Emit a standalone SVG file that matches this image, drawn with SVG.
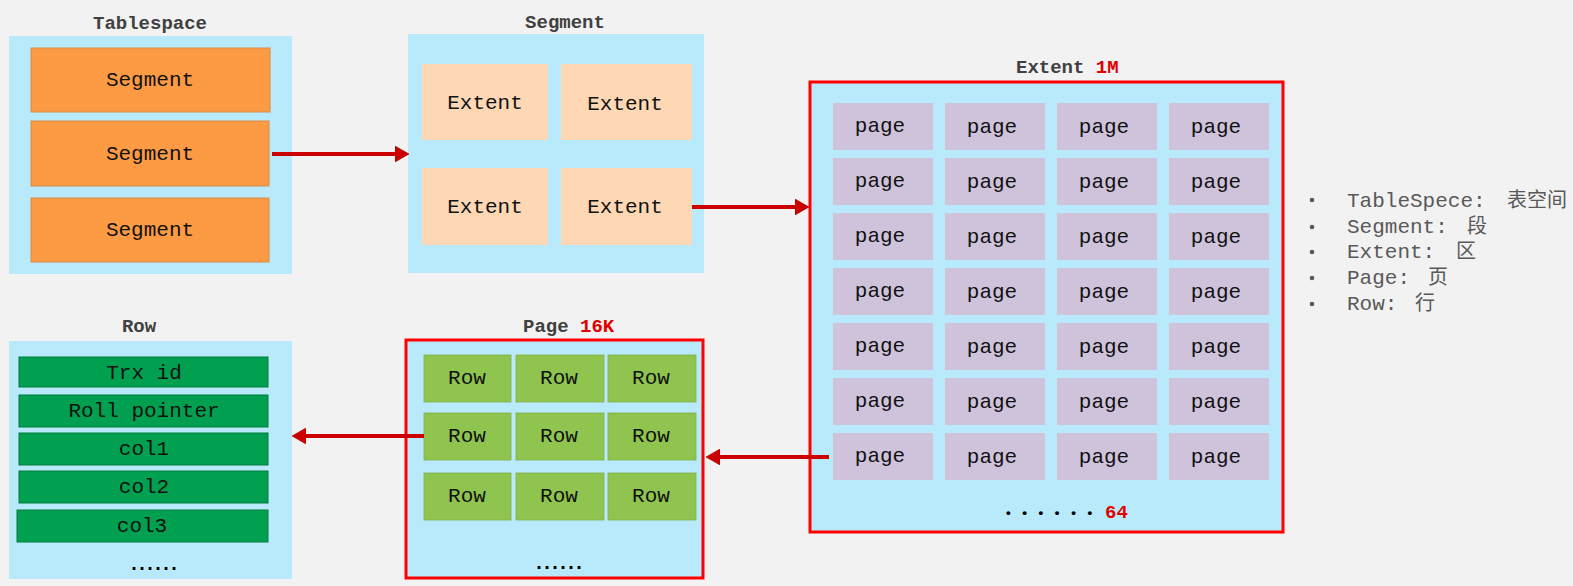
<svg xmlns="http://www.w3.org/2000/svg" width="1573" height="586" viewBox="0 0 1573 586">
<style>
.bg{fill:#f2f2f2}
.cont{fill:#b8eafc}
.redbox{fill:#b8eafc;stroke:#ff0000;stroke-width:3}
.title{font-family:"Liberation Mono",monospace;font-weight:bold;font-size:19px;fill:#404040;text-anchor:middle}
.red{fill:#e00000}
.lbl{font-family:"Liberation Mono",monospace;font-size:21px;fill:#111;text-anchor:middle}
.seg{fill:#fd9b44;stroke:#d98a45;stroke-width:1}
.ext{fill:#fed8b4}
.pg{fill:#cfc3dc}
.row{fill:#8fc44f;stroke:#7fb244;stroke-width:0.8}
.col{fill:#00a050;stroke:#007a3a;stroke-width:1}
.arrow{stroke:#cc0000;stroke-width:4;fill:none}
.dots{font-family:"Liberation Mono",monospace;font-weight:bold;fill:#000;text-anchor:middle}
.leg{font-family:"Liberation Mono","Noto Sans CJK SC",monospace;font-size:21px;fill:#595959}
.cjk{font-family:"Noto Sans CJK SC",sans-serif;font-size:20px}
</style>
<defs>
<marker id="ah" markerUnits="userSpaceOnUse" markerWidth="14" markerHeight="16" refX="6" refY="8" orient="auto">
<path d="M0,0 L14,8 L0,16 Z" fill="#cc0000" stroke="#a00000" stroke-width="0.6"/>
</marker>
</defs>
<rect class="bg" x="0" y="0" width="1573" height="586"/>

<g id="tablespace">
<text class="title" x="150" y="29">Tablespace</text>
<rect class="cont" x="9" y="36" width="283" height="238"/>
<rect class="seg" x="31" y="48" width="239" height="64"/>
<rect class="seg" x="31" y="121" width="238" height="65"/>
<rect class="seg" x="31" y="198" width="238" height="64"/>
<text class="lbl" x="150" y="86">Segment</text>
<text class="lbl" x="150" y="160">Segment</text>
<text class="lbl" x="150" y="236">Segment</text>
</g>

<g id="segment">
<text class="title" x="565" y="28">Segment</text>
<rect class="cont" x="408" y="34" width="296" height="239"/>
<rect class="ext" x="422" y="64" width="126" height="76"/>
<rect class="ext" x="561" y="64" width="131" height="76"/>
<rect class="ext" x="422" y="168" width="126" height="77"/>
<rect class="ext" x="561" y="168" width="131" height="77"/>
<text class="lbl" x="485" y="109">Extent</text>
<text class="lbl" x="625" y="110">Extent</text>
<text class="lbl" x="485" y="213">Extent</text>
<text class="lbl" x="625" y="213">Extent</text>
</g>

<g id="extent">
<text class="title" x="1016" y="73" style="text-anchor:start">Extent <tspan class="red">1M</tspan></text>
<rect class="redbox" x="810" y="82" width="473" height="450"/>
<g id="pages">
<rect class="pg" x="833" y="103" width="100" height="47"/><rect class="pg" x="945" y="103" width="100" height="47"/><rect class="pg" x="1057" y="103" width="100" height="47"/><rect class="pg" x="1169" y="103" width="100" height="47"/>
<rect class="pg" x="833" y="158" width="100" height="47"/><rect class="pg" x="945" y="158" width="100" height="47"/><rect class="pg" x="1057" y="158" width="100" height="47"/><rect class="pg" x="1169" y="158" width="100" height="47"/>
<rect class="pg" x="833" y="213" width="100" height="47"/><rect class="pg" x="945" y="213" width="100" height="47"/><rect class="pg" x="1057" y="213" width="100" height="47"/><rect class="pg" x="1169" y="213" width="100" height="47"/>
<rect class="pg" x="833" y="268" width="100" height="47"/><rect class="pg" x="945" y="268" width="100" height="47"/><rect class="pg" x="1057" y="268" width="100" height="47"/><rect class="pg" x="1169" y="268" width="100" height="47"/>
<rect class="pg" x="833" y="323" width="100" height="47"/><rect class="pg" x="945" y="323" width="100" height="47"/><rect class="pg" x="1057" y="323" width="100" height="47"/><rect class="pg" x="1169" y="323" width="100" height="47"/>
<rect class="pg" x="833" y="378" width="100" height="47"/><rect class="pg" x="945" y="378" width="100" height="47"/><rect class="pg" x="1057" y="378" width="100" height="47"/><rect class="pg" x="1169" y="378" width="100" height="47"/>
<rect class="pg" x="833" y="433" width="100" height="47"/><rect class="pg" x="945" y="433" width="100" height="47"/><rect class="pg" x="1057" y="433" width="100" height="47"/><rect class="pg" x="1169" y="433" width="100" height="47"/>
</g>
<g class="lbl">
<text x="880" y="132">page</text><text x="992" y="133">page</text><text x="1104" y="133">page</text><text x="1216" y="133">page</text>
<text x="880" y="187">page</text><text x="992" y="188">page</text><text x="1104" y="188">page</text><text x="1216" y="188">page</text>
<text x="880" y="242">page</text><text x="992" y="243">page</text><text x="1104" y="243">page</text><text x="1216" y="243">page</text>
<text x="880" y="297">page</text><text x="992" y="298">page</text><text x="1104" y="298">page</text><text x="1216" y="298">page</text>
<text x="880" y="352">page</text><text x="992" y="353">page</text><text x="1104" y="353">page</text><text x="1216" y="353">page</text>
<text x="880" y="407">page</text><text x="992" y="408">page</text><text x="1104" y="408">page</text><text x="1216" y="408">page</text>
<text x="880" y="462">page</text><text x="992" y="463">page</text><text x="1104" y="463">page</text><text x="1216" y="463">page</text>
</g>
<text class="dots" x="1049" y="517" style="font-size:13.6px">• • • • • •</text>
<text x="1105" y="518" style="font-family:'Liberation Mono',monospace;font-weight:bold;font-size:19px" class="red">64</text>
</g>

<g id="page">
<text class="title" x="523" y="332" style="text-anchor:start">Page <tspan class="red">16K</tspan></text>
<rect class="redbox" x="406" y="340" width="297" height="238"/>
<rect class="row" x="424" y="355" width="87" height="47"/><rect class="row" x="516" y="355" width="88" height="47"/><rect class="row" x="608" y="355" width="88" height="47"/>
<rect class="row" x="424" y="413" width="87" height="47"/><rect class="row" x="516" y="413" width="88" height="47"/><rect class="row" x="608" y="413" width="88" height="47"/>
<rect class="row" x="424" y="473" width="87" height="47"/><rect class="row" x="516" y="473" width="88" height="47"/><rect class="row" x="608" y="473" width="88" height="47"/>
<g class="lbl">
<text x="467" y="384">Row</text><text x="559" y="384">Row</text><text x="651" y="384">Row</text>
<text x="467" y="442">Row</text><text x="559" y="442">Row</text><text x="651" y="442">Row</text>
<text x="467" y="502">Row</text><text x="559" y="502">Row</text><text x="651" y="502">Row</text>
</g>
<text class="dots" x="557" y="569" style="font-size:20px;letter-spacing:-4px">......</text>
</g>

<g id="row">
<text class="title" x="139" y="332">Row</text>
<rect class="cont" x="9" y="341" width="283" height="238"/>
<rect class="col" x="19" y="357" width="249" height="30"/>
<rect class="col" x="19" y="395" width="249" height="32"/>
<rect class="col" x="19" y="433" width="249" height="32"/>
<rect class="col" x="19" y="471" width="249" height="32"/>
<rect class="col" x="17" y="510" width="251" height="32"/>
<text class="lbl" x="144" y="379">Trx id</text>
<text class="lbl" x="144" y="417">Roll pointer</text>
<text class="lbl" x="144" y="455">col1</text>
<text class="lbl" x="144" y="493">col2</text>
<text class="lbl" x="142" y="532">col3</text>
<text class="dots" x="152" y="570" style="font-size:20px;letter-spacing:-4px">......</text>
</g>

<g id="connectors">
<line class="arrow" x1="272" y1="154" x2="401" y2="154" marker-end="url(#ah)"/>
<line class="arrow" x1="692" y1="207" x2="801" y2="207" marker-end="url(#ah)"/>
<line class="arrow" x1="829" y1="457" x2="714" y2="457" marker-end="url(#ah)"/>
<line class="arrow" x1="424" y1="436" x2="300" y2="436" marker-end="url(#ah)"/>
</g>

<g id="legend" class="leg">
<circle cx="1312" cy="200" r="2.3" fill="#595959"/>
<circle cx="1312" cy="227" r="2.3" fill="#595959"/>
<circle cx="1312" cy="252" r="2.3" fill="#595959"/>
<circle cx="1312" cy="278" r="2.3" fill="#595959"/>
<circle cx="1312" cy="304" r="2.3" fill="#595959"/>
<text x="1347" y="207">TableSpece: <tspan class="cjk" x="1507">表空间</tspan></text>
<text x="1347" y="233">Segment: <tspan class="cjk" x="1467">段</tspan></text>
<text x="1347" y="258">Extent: <tspan class="cjk" x="1456">区</tspan></text>
<text x="1347" y="284">Page: <tspan class="cjk" x="1428">页</tspan></text>
<text x="1347" y="310">Row: <tspan class="cjk" x="1415">行</tspan></text>
</g>
</svg>
